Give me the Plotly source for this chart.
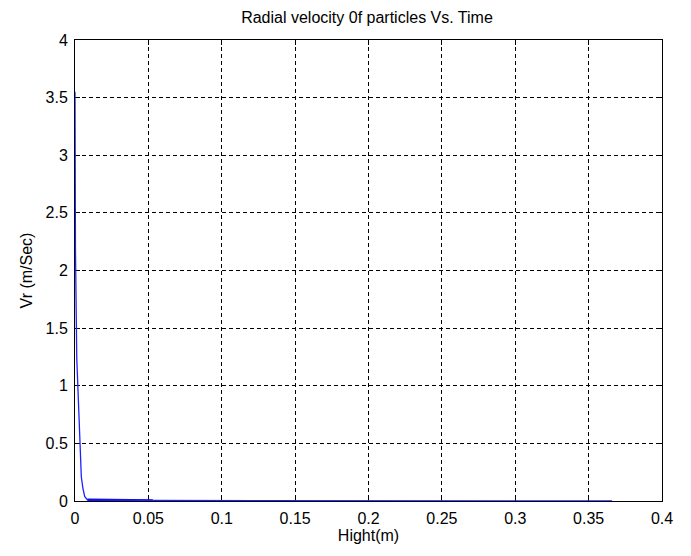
import plotly.graph_objects as go

# Radial velocity curve
hight_m = [0.0, 0.0, 0.0003, 0.0012, 0.0027, 0.0035, 0.0043, 0.0054, 0.0066, 0.0084, 0.053, 0.366]
vr_ms = [3.55, 2.25, 2.2, 1.24, 0.70, 0.38, 0.21, 0.11, 0.04, 0.01, 0.005, 0.0]

# Dense overlapping part along zero (drawn thicker in the original)
flat_x = [0.0084, 0.053]
flat_y = [0.01, 0.005]

x_ticks = [0, 0.05, 0.1, 0.15, 0.2, 0.25, 0.3, 0.35, 0.4]
x_tick_text = ["0", "0.05", "0.1", "0.15", "0.2", "0.25", "0.3", "0.35", "0.4"]
y_ticks = [0, 0.5, 1, 1.5, 2, 2.5, 3, 3.5, 4]
y_tick_text = ["0", "0.5", "1", "1.5", "2", "2.5", "3", "3.5", "4"]

font = "Liberation Sans, Arial, sans-serif"
fsize = 16

fig = go.Figure()
fig.add_trace(go.Scatter(x=flat_x, y=flat_y, mode="lines",
                         line=dict(color="#0000ee", width=2.5), showlegend=False))
fig.add_trace(go.Scatter(x=hight_m, y=vr_ms, mode="lines",
                         line=dict(color="#2020ff", width=1.3), showlegend=False))

axis_common = dict(
    showline=True, linecolor="black", linewidth=1, mirror="ticks",
    ticks="inside", ticklen=5, tickcolor="black", tickwidth=1,
    showgrid=True, gridcolor="black", gridwidth=1, griddash="4px,3px",
    zeroline=False, tickfont=dict(family=font, size=fsize, color="black"),
    automargin=False, layer="below traces", ticklabelstandoff=3,
)

fig.update_xaxes(range=[0, 0.4], tickvals=x_ticks, ticktext=x_tick_text,
                 title=dict(text="Hight(m)", font=dict(family=font, size=fsize, color="black"), standoff=2),
                 **axis_common)
fig.update_yaxes(range=[0, 4], tickvals=y_ticks, ticktext=y_tick_text,
                 title=dict(text="Vr (m/Sec)", font=dict(family=font, size=fsize, color="black"), standoff=8),
                 **axis_common)

# page body has an 8px default margin, so the figure is 8px smaller
fig.update_layout(
    width=683, height=548,
    margin=dict(l=67, r=29, t=32, b=55),
    paper_bgcolor="white", plot_bgcolor="white",
    title=dict(text="Radial velocity 0f particles Vs. Time", x=0.5256, xanchor="center",
               y=0.982, yanchor="middle",
               font=dict(family=font, size=fsize, color="black")),
)

fig.write_html("out.html")
